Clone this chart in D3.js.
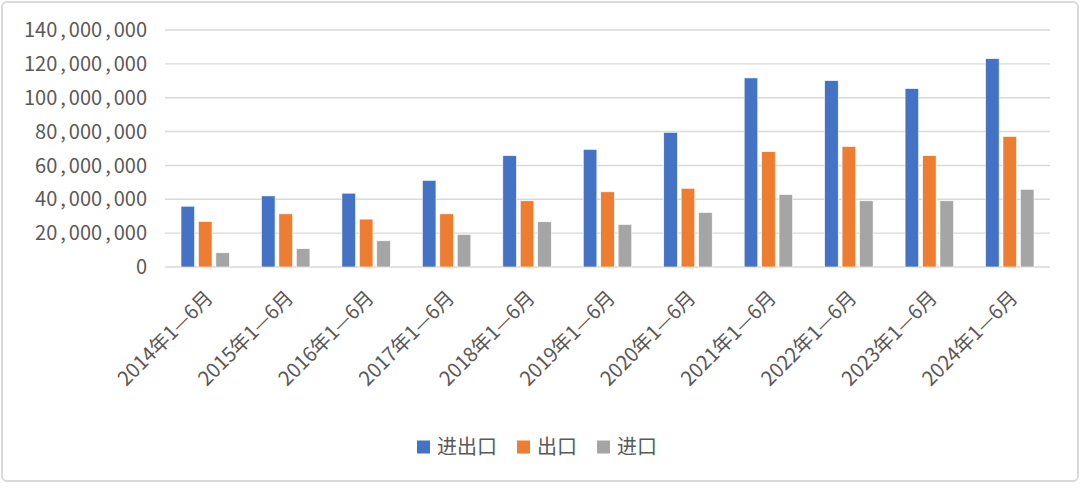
<!DOCTYPE html>
<html>
<head>
<meta charset="utf-8">
<script src="https://cdn.jsdelivr.net/npm/d3@7"></script>
<style>
  html, body { margin: 0; padding: 0; background: #fff; }
  svg { display: block; }
  text { font-family: "Noto Sans CJK SC", "Noto Sans", sans-serif; fill: #595959; }
</style>
</head>
<body>
<svg id="chart" width="1080" height="488"></svg>
<script>
const categories = ["2014年1—6月","2015年1—6月","2016年1—6月","2017年1—6月","2018年1—6月","2019年1—6月","2020年1—6月","2021年1—6月","2022年1—6月","2023年1—6月","2024年1—6月"];
const seriesNames = ["进出口","出口","进口"];
const totalValues  = [35900000, 42000000, 43600000, 51200000, 65800000, 69500000, 79500000, 111700000, 110100000, 105400000, 123100000];
const exportValues = [26900000, 31400000, 28300000, 31400000, 39100000, 44400000, 46500000, 68100000, 71200000, 65800000, 77100000];
const importValues = [8400000, 10800000, 15500000, 19200000, 26700000, 25100000, 32200000, 42800000, 39100000, 39100000, 45900000];
const yTicks = [0, 20000000, 40000000, 60000000, 80000000, 100000000, 120000000, 140000000];
const colors = ["#4472C4", "#ED7D31", "#A5A5A5"];

const seriesValues = [totalValues, exportValues, importValues];
const svg = d3.select("#chart");

// outer frame
svg.append("rect")
  .attr("x", 2).attr("y", 2).attr("width", 1076).attr("height", 479)
  .attr("rx", 5).attr("fill", "#fff").attr("stroke", "#d9d9d9").attr("stroke-width", 2);

const plotLeft = 165, plotRight = 1050, plotTop = 30, plotBottom = 267;

const x0 = d3.scaleBand().domain(categories).range([plotLeft, plotRight])
  .paddingInner(0.35).paddingOuter(0.175);
const x1 = d3.scaleBand().domain(seriesNames).range([0, x0.bandwidth()]);
const y = d3.scaleLinear().domain([0, 140000000]).range([plotBottom, plotTop]);

// gridlines
svg.append("g").selectAll("line").data(yTicks).join("line")
  .attr("x1", plotLeft).attr("x2", plotRight)
  .attr("y1", d => y(d)).attr("y2", d => y(d))
  .attr("stroke", "#d9d9d9").attr("stroke-width", 1.4);

// y labels with wide comma spacing
const fmt = d3.format(",");
const yl = svg.append("g").selectAll("text").data(yTicks).join("text")
  .attr("x", 147).attr("y", d => y(d)).attr("dy", "0.36em")
  .attr("text-anchor", "end").attr("font-size", 20);
yl.each(function(d) {
  const parts = fmt(d).split(",");
  const t = d3.select(this);
  parts.forEach((p, i) => {
    if (i > 0) t.append("tspan").attr("dx", 3).text(",");
    t.append("tspan").attr("dx", i > 0 ? 3 : 0).text(p);
  });
});

// bars
const barW = x1.bandwidth() * 0.78;
const groups = svg.append("g").selectAll("g").data(categories).join("g")
  .attr("transform", d => `translate(${x0(d)},0)`);
groups.selectAll("rect")
  .data((d, i) => seriesNames.map((s, j) => ({ s, v: seriesValues[j][i], c: colors[j] })))
  .join("rect")
  .attr("x", d => x1(d.s) + (x1.bandwidth() - barW) / 2)
  .attr("width", barW)
  .attr("y", d => y(d.v))
  .attr("height", d => y(0) - y(d.v))
  .attr("fill", d => d.c)
  .attr("stroke", "#fff").attr("stroke-width", 0.6);

// x labels rotated
svg.append("g").selectAll("text").data(categories).join("text")
  .attr("transform", d => `translate(${x0(d) + x0.bandwidth() / 2 + 9},299) rotate(-45)`)
  .attr("text-anchor", "end").attr("font-size", 20)
  .text(d => d);

// legend
const legend = svg.append("g");
let lx = 417;
seriesNames.forEach((name, i) => {
  legend.append("rect").attr("x", lx).attr("y", 440.5).attr("width", 13).attr("height", 13).attr("fill", colors[i]);
  const t = legend.append("text").attr("x", lx + 20).attr("y", 447).attr("dy", "0.36em")
    .attr("font-size", 20).text(name);
  lx = lx + 20 + t.node().getComputedTextLength() + 20;
});
</script>
</body>
</html>
